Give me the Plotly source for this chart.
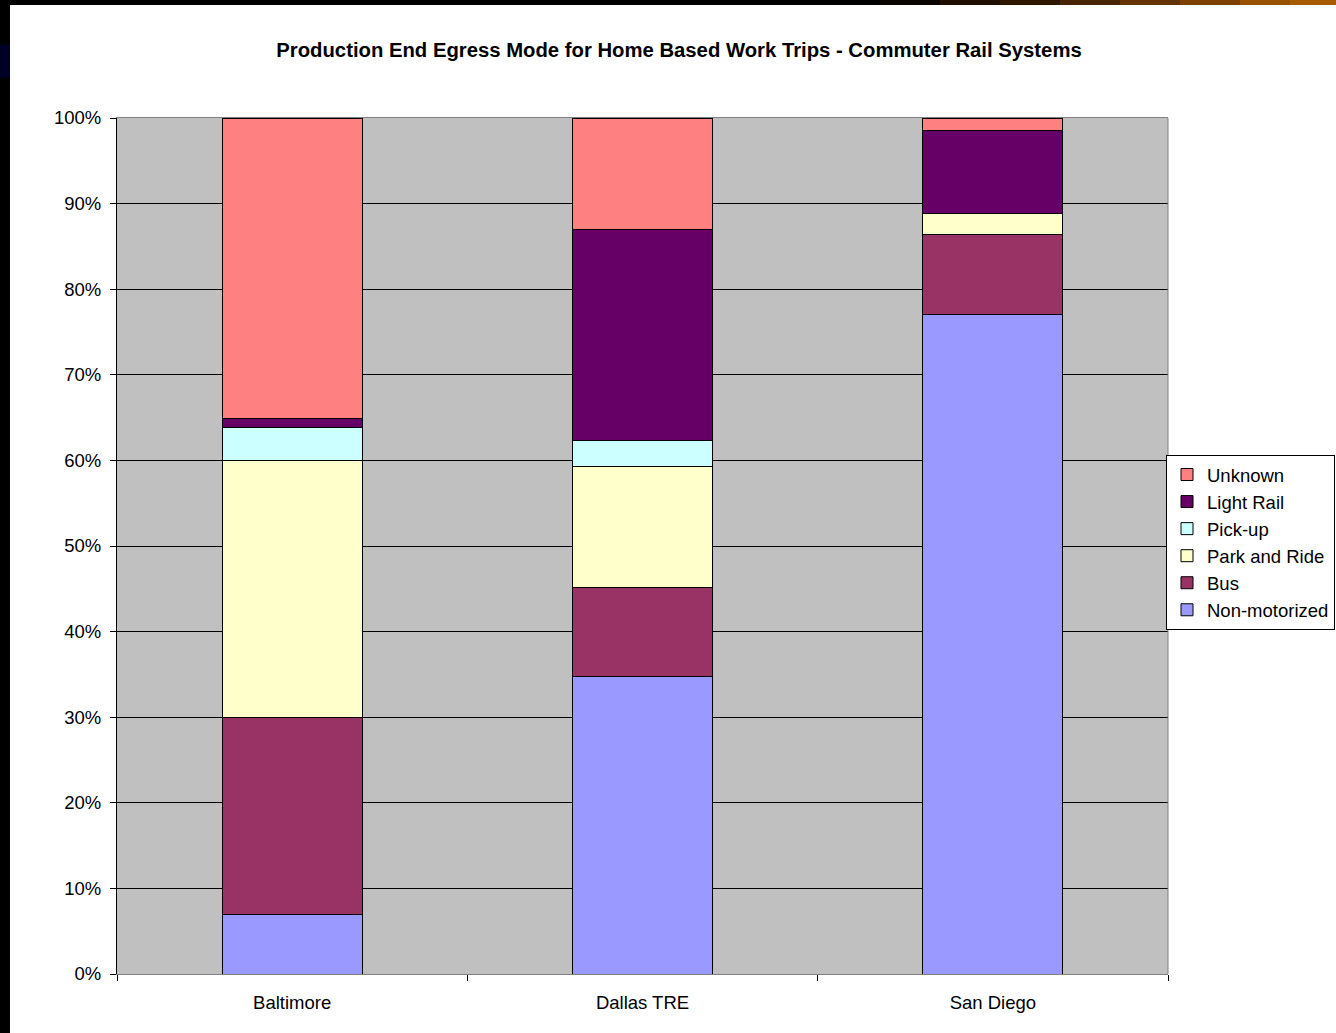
import plotly.graph_objects as go

categories = ["Baltimore", "Dallas TRE", "San Diego"]
series_names = ["Non-motorized", "Bus", "Park and Ride", "Pick-up", "Light Rail", "Unknown"]
non_motorized = [6.9, 34.8, 77.0]
bus = [23.1, 10.3, 9.4]
park_and_ride = [30.0, 14.2, 2.5]
pick_up = [3.8, 3.0, 0.0]
light_rail = [1.1, 24.7, 9.6]
unknown = [35.1, 13.0, 1.5]
y_tick_vals = [0, 10, 20, 30, 40, 50, 60, 70, 80, 90, 100]
y_tick_text = ["0%", "10%", "20%", "30%", "40%", "50%", "60%", "70%", "80%", "90%", "100%"]

series_values = [non_motorized, bus, park_and_ride, pick_up, light_rail, unknown]
colors = ["#9999FF", "#993366", "#FFFFCC", "#CCFFFF", "#660066", "#FF8080"]

W, H = 1336, 1033
L, R, T, B = 117, 168, 118, 59
pw, ph = W - L - R, H - T - B

def px(x):
    return (x - L) / pw

def py(y):
    return (H - B - y) / ph

fig = go.Figure()
for name, vals, col in zip(series_names, series_values, colors):
    fig.add_trace(go.Bar(
        x=categories, y=vals, name=name,
        marker=dict(color=col, line=dict(color="#000000", width=1)),
    ))

shapes = []
shapes.append(dict(type="rect", xref="paper", yref="paper", x0=px(0), x1=px(10), y0=py(H), y1=py(0),
                   fillcolor="#000000", line=dict(width=0), layer="above"))
shapes.append(dict(type="rect", xref="paper", yref="paper", x0=px(0), x1=px(W), y0=py(5), y1=py(0),
                   fillcolor="#000000", line=dict(width=0), layer="above"))
shapes.append(dict(type="rect", xref="paper", yref="paper", x0=px(0), x1=px(10), y0=py(78), y1=py(45),
                   fillcolor="#000026", line=dict(width=0), layer="above"))
grad = [(880, "#0a0500"), (940, "#1e0f00"), (1000, "#2e1700"), (1060, "#472400"), (1120, "#623200"),
        (1180, "#7d4000"), (1240, "#955000"), (1290, "#a85a00")]
for i, (gx, gc) in enumerate(grad):
    gx1 = grad[i + 1][0] if i + 1 < len(grad) else W
    shapes.append(dict(type="rect", xref="paper", yref="paper", x0=px(gx), x1=px(gx1), y0=py(5), y1=py(0),
                       fillcolor=gc, line=dict(width=0), layer="above"))
shapes.append(dict(type="line", xref="paper", yref="paper", x0=1, x1=1, y0=0, y1=1,
                   line=dict(color="#808080", width=1), layer="above"))

FS = 18.5

fig.update_layout(
    width=W, height=H,
    margin=dict(l=L, r=R, t=T, b=B, autoexpand=False),
    barmode="stack", bargap=0.6,
    paper_bgcolor="#FFFFFF", plot_bgcolor="#C0C0C0",
    font=dict(family="Arial, Liberation Sans, sans-serif", size=FS, color="#000000"),
    title=dict(text="<b>Production End Egress Mode for Home Based Work Trips - Commuter Rail Systems</b>",
               x=px(679), xref="paper", xanchor="center", y=1 - 50 / H, yanchor="middle",
               font=dict(size=20.3, color="#000000")),
    xaxis=dict(showline=True, linecolor="#808080", linewidth=1, mirror=True,
               ticks="outside", tickson="boundaries", ticklen=6, tickcolor="#000000",
               ticklabelstandoff=12,
               showgrid=False, tickfont=dict(size=FS)),
    yaxis=dict(range=[0, 100], tickvals=y_tick_vals, ticktext=y_tick_text,
               showline=True, linecolor="#000000", linewidth=1,
               ticks="outside", ticklen=6, tickcolor="#000000",
               ticklabelstandoff=5,
               showgrid=True, gridcolor="#000000", gridwidth=1, zeroline=False,
               tickfont=dict(size=FS)),
    legend=dict(x=px(1166), y=py(455), xanchor="left", yanchor="top",
                bgcolor="#FFFFFF", bordercolor="#000000", borderwidth=1,
                traceorder="reversed", font=dict(size=FS), itemwidth=30,
                tracegroupgap=0),
    shapes=shapes,
    showlegend=True,
)

fig.write_html("out.html")
